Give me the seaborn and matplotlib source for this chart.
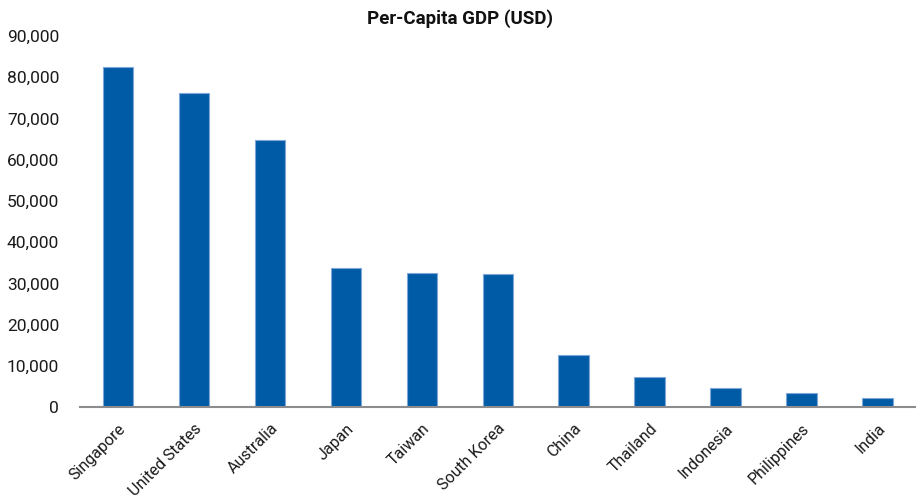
import matplotlib
matplotlib.use("Agg")
import matplotlib.pyplot as plt
from matplotlib import font_manager
from matplotlib.ticker import FuncFormatter
import seaborn as sns
import pandas as pd

countries = ["Singapore", "United States", "Australia", "Japan", "Taiwan",
             "South Korea", "China", "Thailand", "Indonesia", "Philippines", "India"]
gdp_per_capita = [82600, 76100, 64800, 33700, 32600, 32200, 12500, 7400, 4600, 3500, 2300]
y_ticks = [0, 10000, 20000, 30000, 40000, 50000, 60000, 70000, 80000, 90000]
title = "Per-Capita GDP (USD)"

df = pd.DataFrame({"country": countries, "gdp": gdp_per_capita})

sns.set_theme(style="white")
installed = {f.name for f in font_manager.fontManager.ttflist}
narrow = "Liberation Sans Narrow" if "Liberation Sans Narrow" in installed else "Roboto"
plt.rcParams["font.family"] = ["Roboto", "DejaVu Sans"]

fig = plt.figure(figsize=(9.2, 4.98), dpi=100)
ax = fig.add_axes([0.087, 0.1827, 0.908, 0.745])

sns.barplot(data=df, x="country", y="gdp", color="#005BA6", width=0.4,
            edgecolor="#7FA8D8", linewidth=0.8, saturation=1, ax=ax)

ax.set_ylim(0, 90000)
ax.set_xlim(-0.5, len(countries) - 0.5)
ax.set_yticks(y_ticks)
ax.yaxis.set_major_formatter(FuncFormatter(lambda v, _: f"{int(v):,}"))
ax.set_xlabel("")
ax.set_ylabel("")

for side in ("top", "right", "left"):
    ax.spines[side].set_visible(False)
ax.spines["bottom"].set_color("#8C8C8C")
ax.spines["bottom"].set_linewidth(1.5)
ax.tick_params(axis="both", length=0)
ax.tick_params(axis="y", labelsize=12.5, colors="#1a1a1a", pad=15)
ax.tick_params(axis="x", labelsize=11.5, colors="#1a1a1a", pad=10)
for lbl in ax.get_yticklabels():
    lbl.set_family([narrow, "DejaVu Sans"])
for lbl in ax.get_xticklabels():
    lbl.set_rotation(45)
    lbl.set_ha("right")
    lbl.set_rotation_mode("anchor")

fig.text(0.5, 0.962, title, ha="center", va="center", fontsize=13.5,
         fontweight="bold", family=[narrow, "DejaVu Sans"], color="#111111")

fig.savefig("out.png", dpi=100, facecolor="white")
